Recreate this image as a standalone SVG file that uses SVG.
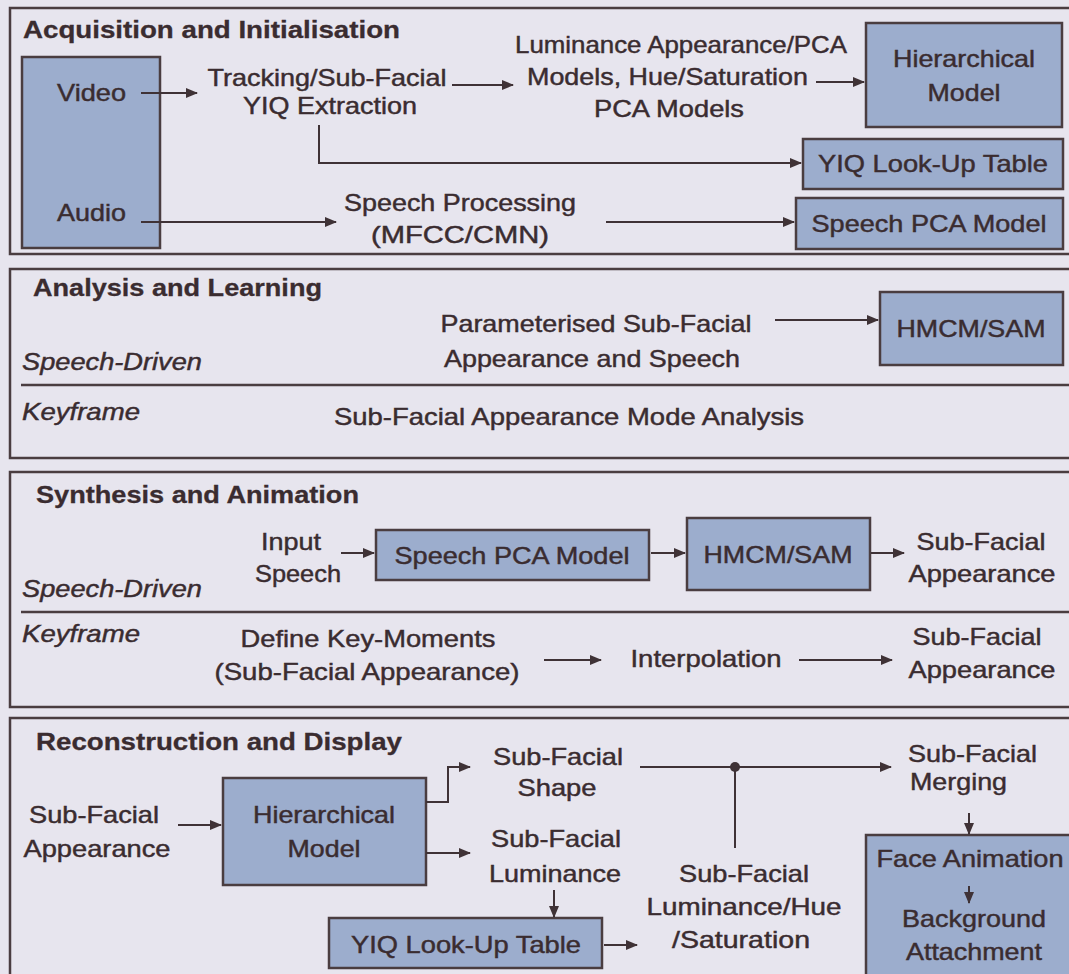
<svg xmlns="http://www.w3.org/2000/svg" width="1069" height="974" viewBox="0 0 1069 974">
<style>
.panel{fill:none;stroke:#4a3d40;stroke-width:2.5}
.box{fill:#9cadcd;stroke:#4a3d40;stroke-width:2.5}
.t{font-family:"Liberation Sans",Arial,sans-serif;font-size:24px;fill:#3a2c30;stroke:#3a2c30;stroke-width:0.45}
.b{font-weight:bold;stroke-width:0.3}
.i{font-style:italic}
.c{text-anchor:middle}
.ln{stroke:#3f3236;stroke-width:2;fill:none}
.ar{marker-end:url(#ah)}
.div{stroke:#4a3d40;stroke-width:2.5}
</style>
<defs>
<marker id="ah" markerUnits="userSpaceOnUse" markerWidth="12" markerHeight="10" refX="11" refY="5" orient="auto">
<path d="M0,0 L12,5 L0,10 z" fill="#3f3236"/>
</marker>
</defs>
<rect x="0" y="0" width="1069" height="974" fill="#e7e5ee"/>

<g id="panels">
<rect class="panel" x="10" y="8" width="1080" height="246"/>
<rect class="panel" x="10" y="269" width="1080" height="189"/>
<rect class="panel" x="10" y="472" width="1080" height="235"/>
<rect class="panel" x="10" y="718" width="1080" height="300"/>
<line class="div" x1="21" y1="385" x2="1069" y2="385"/>
<line class="div" x1="21" y1="612" x2="1069" y2="612"/>
</g>

<g id="titles">
<text class="t b" x="23" y="38" textLength="377" lengthAdjust="spacingAndGlyphs">Acquisition and Initialisation</text>
<text class="t b" x="33" y="296" textLength="289" lengthAdjust="spacingAndGlyphs">Analysis and Learning</text>
<text class="t b" x="36" y="503" textLength="323" lengthAdjust="spacingAndGlyphs">Synthesis and Animation</text>
<text class="t b" x="36" y="750" textLength="366" lengthAdjust="spacingAndGlyphs">Reconstruction and Display</text>
<text class="t i" x="22" y="370" textLength="180" lengthAdjust="spacingAndGlyphs">Speech-Driven</text>
<text class="t i" x="22" y="420" textLength="118" lengthAdjust="spacingAndGlyphs">Keyframe</text>
<text class="t i" x="22" y="597" textLength="180" lengthAdjust="spacingAndGlyphs">Speech-Driven</text>
<text class="t i" x="22" y="642" textLength="118" lengthAdjust="spacingAndGlyphs">Keyframe</text>
</g>

<!-- Panel 1 -->
<g id="video-audio">
<rect class="box" x="22" y="57" width="138" height="191"/>
<text class="t" x="57" y="101" textLength="69" lengthAdjust="spacingAndGlyphs">Video</text>
<text class="t" x="57" y="221" textLength="69" lengthAdjust="spacingAndGlyphs">Audio</text>
</g>
<g id="tracking">
<text class="t c" x="327" y="86" textLength="239" lengthAdjust="spacingAndGlyphs">Tracking/Sub-Facial</text>
<text class="t c" x="330" y="114" textLength="174" lengthAdjust="spacingAndGlyphs">YIQ Extraction</text>
</g>
<g id="pca-models">
<text class="t" x="515" y="53" textLength="332" lengthAdjust="spacingAndGlyphs">Luminance Appearance/PCA</text>
<text class="t" x="527" y="85" textLength="281" lengthAdjust="spacingAndGlyphs">Models, Hue/Saturation</text>
<text class="t" x="594" y="117" textLength="150" lengthAdjust="spacingAndGlyphs">PCA Models</text>
</g>
<g id="hier-model-1">
<rect class="box" x="866" y="23" width="196" height="104"/>
<text class="t c" x="964" y="67" textLength="142" lengthAdjust="spacingAndGlyphs">Hierarchical</text>
<text class="t c" x="964" y="101" textLength="73" lengthAdjust="spacingAndGlyphs">Model</text>
</g>
<g id="yiq-lut-1">
<rect class="box" x="803" y="139" width="260" height="50"/>
<text class="t c" x="933" y="172" textLength="230" lengthAdjust="spacingAndGlyphs">YIQ Look-Up Table</text>
</g>
<g id="speech-proc">
<text class="t c" x="460" y="211" textLength="232" lengthAdjust="spacingAndGlyphs">Speech Processing</text>
<text class="t c" x="460" y="243" textLength="178" lengthAdjust="spacingAndGlyphs">(MFCC/CMN)</text>
</g>
<g id="speech-pca-1">
<rect class="box" x="796" y="198" width="267" height="51"/>
<text class="t c" x="929" y="232" textLength="235" lengthAdjust="spacingAndGlyphs">Speech PCA Model</text>
</g>

<!-- Panel 2 -->
<g id="param">
<text class="t c" x="596" y="332" textLength="311" lengthAdjust="spacingAndGlyphs">Parameterised Sub-Facial</text>
<text class="t c" x="592" y="367" textLength="296" lengthAdjust="spacingAndGlyphs">Appearance and Speech</text>
</g>
<g id="hmcm-1">
<rect class="box" x="880" y="292" width="183" height="73"/>
<text class="t c" x="971" y="337" textLength="149" lengthAdjust="spacingAndGlyphs">HMCM/SAM</text>
</g>
<g id="mode-analysis">
<text class="t" x="334" y="425" textLength="470" lengthAdjust="spacingAndGlyphs">Sub-Facial Appearance Mode Analysis</text>
</g>

<!-- Panel 3 -->
<g id="input-speech">
<text class="t c" x="291" y="550" textLength="60" lengthAdjust="spacingAndGlyphs">Input</text>
<text class="t c" x="298" y="582" textLength="86" lengthAdjust="spacingAndGlyphs">Speech</text>
</g>
<g id="speech-pca-2">
<rect class="box" x="376" y="530" width="273" height="50"/>
<text class="t c" x="512" y="564" textLength="235" lengthAdjust="spacingAndGlyphs">Speech PCA Model</text>
</g>
<g id="hmcm-2">
<rect class="box" x="687" y="518" width="183" height="72"/>
<text class="t c" x="778" y="563" textLength="149" lengthAdjust="spacingAndGlyphs">HMCM/SAM</text>
</g>
<g id="sfa-1">
<text class="t c" x="981" y="550" textLength="129" lengthAdjust="spacingAndGlyphs">Sub-Facial</text>
<text class="t c" x="982" y="582" textLength="147" lengthAdjust="spacingAndGlyphs">Appearance</text>
</g>
<g id="key-moments">
<text class="t c" x="368" y="647" textLength="255" lengthAdjust="spacingAndGlyphs">Define Key-Moments</text>
<text class="t c" x="367" y="680" textLength="305" lengthAdjust="spacingAndGlyphs">(Sub-Facial Appearance)</text>
</g>
<g id="interpolation">
<text class="t c" x="706" y="667" textLength="151" lengthAdjust="spacingAndGlyphs">Interpolation</text>
</g>
<g id="sfa-2">
<text class="t c" x="977" y="645" textLength="129" lengthAdjust="spacingAndGlyphs">Sub-Facial</text>
<text class="t c" x="982" y="678" textLength="147" lengthAdjust="spacingAndGlyphs">Appearance</text>
</g>

<!-- Panel 4 -->
<g id="sfa-in">
<text class="t c" x="94" y="823" textLength="130" lengthAdjust="spacingAndGlyphs">Sub-Facial</text>
<text class="t c" x="97" y="857" textLength="147" lengthAdjust="spacingAndGlyphs">Appearance</text>
</g>
<g id="hier-model-2">
<rect class="box" x="223" y="778" width="203" height="107"/>
<text class="t c" x="324" y="823" textLength="142" lengthAdjust="spacingAndGlyphs">Hierarchical</text>
<text class="t c" x="324" y="857" textLength="73" lengthAdjust="spacingAndGlyphs">Model</text>
</g>
<g id="sf-shape">
<text class="t c" x="558" y="765" textLength="130" lengthAdjust="spacingAndGlyphs">Sub-Facial</text>
<text class="t c" x="557" y="796" textLength="79" lengthAdjust="spacingAndGlyphs">Shape</text>
</g>
<g id="sf-lum">
<text class="t c" x="556" y="847" textLength="130" lengthAdjust="spacingAndGlyphs">Sub-Facial</text>
<text class="t c" x="555" y="882" textLength="132" lengthAdjust="spacingAndGlyphs">Luminance</text>
</g>
<g id="yiq-lut-2">
<rect class="box" x="329" y="918" width="273" height="50"/>
<text class="t c" x="466" y="953" textLength="230" lengthAdjust="spacingAndGlyphs">YIQ Look-Up Table</text>
</g>
<g id="sf-lhs">
<text class="t c" x="744" y="882" textLength="130" lengthAdjust="spacingAndGlyphs">Sub-Facial</text>
<text class="t c" x="744" y="915" textLength="195" lengthAdjust="spacingAndGlyphs">Luminance/Hue</text>
<text class="t c" x="741" y="948" textLength="138" lengthAdjust="spacingAndGlyphs">/Saturation</text>
</g>
<g id="sf-merging">
<text class="t" x="908" y="762" textLength="129" lengthAdjust="spacingAndGlyphs">Sub-Facial</text>
<text class="t" x="910" y="790" textLength="97" lengthAdjust="spacingAndGlyphs">Merging</text>
</g>
<g id="face-anim">
<rect class="box" x="866" y="835" width="210" height="150"/>
<text class="t c" x="970" y="867" textLength="187" lengthAdjust="spacingAndGlyphs">Face Animation</text>
<text class="t c" x="974" y="927" textLength="144" lengthAdjust="spacingAndGlyphs">Background</text>
<text class="t c" x="974" y="960" textLength="136" lengthAdjust="spacingAndGlyphs">Attachment</text>
</g>

<g id="connectors">
<path class="ln ar" d="M141,93 H197"/>
<path class="ln ar" d="M452,85 H513"/>
<path class="ln ar" d="M816,82 H864"/>
<path class="ln ar" d="M319,125 V163 H801"/>
<path class="ln ar" d="M141,222 H336"/>
<path class="ln ar" d="M606,222 H794"/>
<path class="ln ar" d="M775,320 H878"/>
<path class="ln ar" d="M341,553 H374"/>
<path class="ln ar" d="M651,553 H685"/>
<path class="ln ar" d="M871,553 H904"/>
<path class="ln ar" d="M544,660 H601"/>
<path class="ln ar" d="M799,660 H892"/>
<path class="ln ar" d="M178,825 H221"/>
<path class="ln ar" d="M426,802 H448 V767 H470"/>
<path class="ln ar" d="M426,853 H470"/>
<path class="ln ar" d="M640,767 H891"/>
<path class="ln" d="M735,767 V848"/>
<circle cx="735" cy="767" r="5" fill="#3f3236"/>
<path class="ln ar" d="M969,813 V834"/>
<path class="ln ar" d="M969,886 V903"/>
<path class="ln ar" d="M554,890 V917"/>
<path class="ln ar" d="M604,945 H637"/>
</g>
</svg>
